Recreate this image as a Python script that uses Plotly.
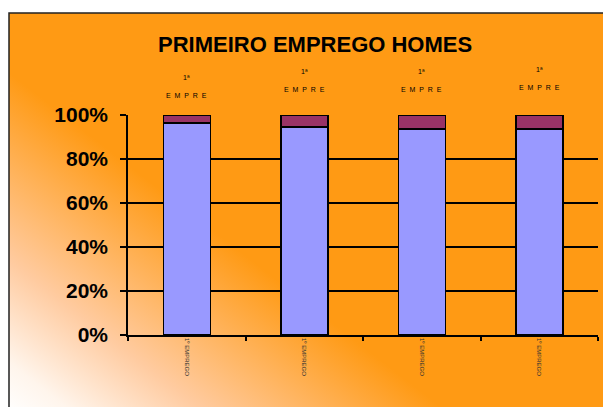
import base64
import plotly.graph_objects as go

# ---- data ----
categories = ["1º EMPREGO A", "1º EMPREGO B", "1º EMPREGO C", "1º EMPREGO D"]
tick_labels = ["1º EMPREGO", "1º EMPREGO", "1º EMPREGO", "1º EMPREGO"]
series_names = ["Si", "Non"]
values_si = [96.4, 94.5, 93.6, 93.6]
values_non = [3.6, 5.5, 6.4, 6.4]
y_ticks = [0, 20, 40, 60, 80, 100]
y_tick_labels = ["0%", "20%", "40%", "60%", "80%", "100%"]
title_text = "PRIMEIRO EMPREGO HOMES"
top_label_1 = "1ª"
top_label_2 = "E  M  P  R  E"

# ---- layout constants (window pixels; page body has an 8px margin) ----
OFF = 8
W, H = 611 - OFF, 407 - OFF
PL, PR, PT, PB = 128, 598, 115, 335          # plot area in window pixels
L, R, T, B = PL - OFF, 611 - PR, PT - OFF, 407 - PB
PW, PH = PR - PL, PB - PT
ORANGE = "#FF9A14"

def px_to_paper_x(px):
    return (px - PL) / PW

def py_to_paper_y(py):
    return (PB - py) / PH

# background: orange box with diagonal white glow from bottom-left
box_x0, box_y0 = 9, 13
box_w, box_h = 640 - box_x0, 440 - box_y0
gx1, gy1 = 0 - box_x0, 407 - box_y0
gx2, gy2 = gx1 + 0.612 * 270, gy1 - 0.791 * 270
svg = f'''<svg xmlns="http://www.w3.org/2000/svg" width="{box_w}" height="{box_h}" viewBox="0 0 {box_w} {box_h}">
<defs><linearGradient id="g" gradientUnits="userSpaceOnUse" x1="{gx1}" y1="{gy1}" x2="{gx2:.1f}" y2="{gy2:.1f}">
<stop offset="0" stop-color="#FFFFFF"/><stop offset="0.15" stop-color="#FFF5EC"/>
<stop offset="0.45" stop-color="#FFCBA0"/>
<stop offset="1" stop-color="{ORANGE}"/></linearGradient></defs>
<rect x="0" y="0" width="{box_w}" height="{box_h}" fill="url(#g)"/></svg>'''
svg_uri = "data:image/svg+xml;base64," + base64.b64encode(svg.encode()).decode()

fig = go.Figure()
fig.add_trace(go.Bar(x=categories, y=values_si, name=series_names[0],
                     marker=dict(color="#9999FF", line=dict(color="black", width=1.5))))
fig.add_trace(go.Bar(x=categories, y=values_non, name=series_names[1],
                     marker=dict(color="#993366", line=dict(color="black", width=1.5))))

label_y1 = [77, 71, 72, 70]
label_y2 = [95, 89, 89, 87]
annotations = []
for i, c in enumerate(categories):
    annotations.append(dict(x=c, xref="x", y=py_to_paper_y(label_y1[i]), yref="paper",
                            xanchor="center", yanchor="middle",
                            text=top_label_1, showarrow=False,
                            font=dict(family="Liberation Sans", size=7, color="black")))
    annotations.append(dict(x=c, xref="x", y=py_to_paper_y(label_y2[i]), yref="paper",
                            xanchor="center", yanchor="middle",
                            text=top_label_2, showarrow=False,
                            font=dict(family="Liberation Sans", size=7, color="black")))
annotations.append(dict(x=px_to_paper_x(315), xref="paper", y=py_to_paper_y(44), yref="paper",
                        xanchor="center", yanchor="middle",
                        text=f"<b>{title_text}</b>", showarrow=False,
                        font=dict(family="Liberation Sans", size=22, color="black")))

fig.update_layout(
    width=W, height=H,
    margin=dict(l=L, r=R, t=T, b=B, autoexpand=False),
    paper_bgcolor="white",
    plot_bgcolor="rgba(0,0,0,0)",
    barmode="stack",
    bargap=0.6,
    showlegend=False,
    annotations=annotations,
    images=[dict(source=svg_uri, xref="paper", yref="paper",
                 x=px_to_paper_x(box_x0), y=py_to_paper_y(box_y0),
                 sizex=box_w / PW, sizey=box_h / PH,
                 xanchor="left", yanchor="top", sizing="stretch", layer="below")],
    shapes=[dict(type="rect", xref="paper", yref="paper",
                 x0=px_to_paper_x(box_x0), x1=px_to_paper_x(650),
                 y0=py_to_paper_y(450), y1=py_to_paper_y(box_y0),
                 line=dict(color="#222222", width=1.5), layer="above")],
    xaxis=dict(type="category", showgrid=False, showline=True, linecolor="black", linewidth=1.5,
               ticks="outside", ticklen=4, tickcolor="black", tickwidth=1.5, tickson="boundaries",
               tickvals=categories, ticktext=tick_labels, tickangle=90,
               tickfont=dict(family="Liberation Sans", size=6, color="#333333"),
               range=[-0.5, 3.5], zeroline=False),
    yaxis=dict(range=[0, 100], tickvals=y_ticks, ticktext=y_tick_labels,
               showgrid=True, gridcolor="black", gridwidth=1.5,
               showline=True, linecolor="black", linewidth=1.5,
               ticks="outside", ticklen=6, tickcolor="black", tickwidth=1.5,
               ticklabelstandoff=8, zeroline=False,
               tickfont=dict(family="Liberation Sans", size=21, color="black", weight="bold")),
)

fig.write_html("out.html")
